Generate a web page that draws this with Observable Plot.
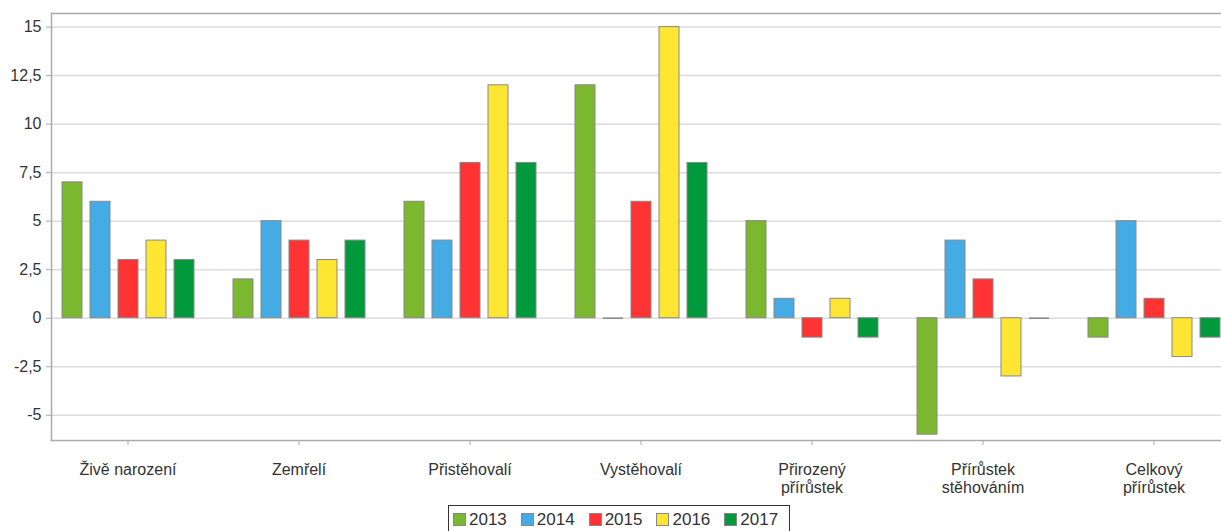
<!DOCTYPE html>
<html><head><meta charset="utf-8">
<script src="https://cdn.jsdelivr.net/npm/d3@7"></script>
<script src="https://cdn.jsdelivr.net/npm/@observablehq/plot@0.6"></script>
<style>
html,body{margin:0;padding:0;background:#fff;}
body{font-family:"Liberation Sans",Arial,sans-serif;color:#333;width:1221px;height:531px;overflow:hidden;position:relative;}
#chart svg{display:block;}
#legend{position:absolute;left:448px;top:505px;border:1px solid #333;display:flex;align-items:center;padding:5px 0 6px 4px;font-size:17px;line-height:17px;background:#fff;}
#legend .item{display:flex;align-items:center;margin-right:14px;}
#legend .item:last-child{margin-right:11px;}
#legend .sw{width:13px;height:13px;border:1px solid #888;margin-right:3px;box-sizing:border-box;}
</style></head>
<body><div id="chart"></div><div id="legend"></div>
<script>
const categories = ["Živě narození", "Zemřelí", "Přistěhovalí", "Vystěhovalí", "Přirozený přírůstek", "Přírůstek stěhováním", "Celkový přírůstek"];
const categoryLabels = ["Živě narození", "Zemřelí", "Přistěhovalí", "Vystěhovalí", "Přirozený\npřírůstek", "Přírůstek\nstěhováním", "Celkový\npřírůstek"];
const years = ["2013", "2014", "2015", "2016", "2017"];
const colors = ["#7cb82f", "#45abe4", "#ff3333", "#ffe633", "#009a3d"];
const v2013 = [7, 2, 6, 12, 5, -6, -1];
const v2014 = [6, 5, 4, 0, 1, 4, 5];
const v2015 = [3, 4, 8, 6, -1, 2, 1];
const v2016 = [4, 3, 12, 15, 1, -3, -2];
const v2017 = [3, 4, 8, 8, -1, 0, -1];
const yTicks = [-5, -2.5, 0, 2.5, 5, 7.5, 10, 12.5, 15];

const series = [v2013, v2014, v2015, v2016, v2017];
const data = [];
categories.forEach((c, i) => years.forEach((y, j) => data.push({category: c, year: y, value: series[j][i]})));
const labelOf = new Map(categories.map((c, i) => [c, categoryLabels[i]]));
const fmt = d => String(d).replace(".", ",");
const font = '"Liberation Sans", Arial, sans-serif';

const chart = Plot.plot({
  width: 1221, height: 500,
  marginLeft: 50, marginRight: 0, marginTop: 13, marginBottom: 60,
  style: {fontFamily: font, fontSize: "16px", color: "#333", background: "#fff"},
  fx: {domain: categories, range: [50, 1231], paddingInner: 0.1057, paddingOuter: 0, axis: null, label: null},
  x: {domain: years, paddingInner: 0.29, paddingOuter: 0.352, axis: null},
  y: {domain: [-6.3, 15.7], axis: null},
  color: {domain: years, range: colors},
  marks: [
    Plot.ruleY(yTicks, {stroke: "#dcdcdc", strokeWidth: 1.5, insetRight: -18.2}),
    Plot.barY(data, {fx: "category", x: "year", y: "value", fill: "year", stroke: "#888", strokeWidth: 1}),
    Plot.tickY(data.filter(d => d.value === 0), {fx: "category", x: "year", y: "value", stroke: "#888", strokeWidth: 1.5}),
    Plot.frame({anchor: "top", facet: "super", stroke: "#aaa", strokeWidth: 1.5}),
    Plot.frame({anchor: "left", facet: "super", stroke: "#aaa", strokeWidth: 1.5}),
    Plot.frame({anchor: "bottom", facet: "super", stroke: "#aaa", strokeWidth: 1.5}),
    Plot.axisY(yTicks, {tickFormat: fmt, tickSize: 5, tickPadding: 5, stroke: "#aaa", color: "#333", fontSize: 16, label: null}),
    Plot.axisFx({anchor: "bottom", tickSize: 5, tickPadding: 16, tickFormat: d => labelOf.get(d), lineHeight: 1.15, fontSize: 16, stroke: "#aaa", color: "#333", label: null})
  ]
});
document.getElementById("chart").appendChild(chart);

const legend = document.getElementById("legend");
years.forEach((y, i) => {
  const it = document.createElement("div");
  it.className = "item";
  const sw = document.createElement("div");
  sw.className = "sw";
  sw.style.background = colors[i];
  const t = document.createElement("span");
  t.textContent = y;
  it.appendChild(sw); it.appendChild(t);
  legend.appendChild(it);
});
</script></body></html>
